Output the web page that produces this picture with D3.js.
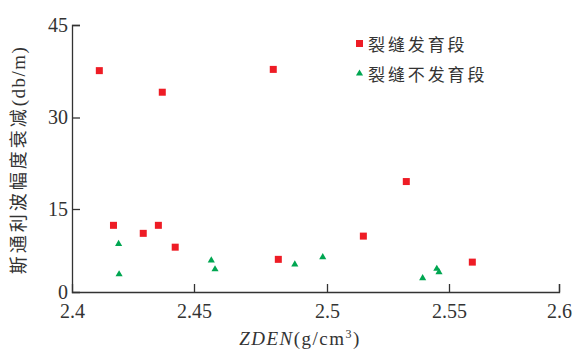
<!DOCTYPE html>
<html>
<head>
<meta charset="utf-8">
<script src="https://cdn.jsdelivr.net/npm/d3@7"></script>
<style>
  body { margin: 0; background: #fff; }
  svg { display: block; }
</style>
</head>
<body>
<div id="chart"></div>
<script>
const width = 574;
const height = 349;

// data
const devX = [2.4112, 2.437, 2.4798, 2.417, 2.4354, 2.4292, 2.4423, 2.4817, 2.5325, 2.5149, 2.5606];
const devY = [37.6, 34.1, 37.8, 12.05, 12.05, 10.6, 8.1, 5.9, 19.5, 10.1, 5.4];
const nonX = [2.4191, 2.4193, 2.4565, 2.4579, 2.4879, 2.4984, 2.5392, 2.545, 2.5459];
const nonY = [8.7, 3.2, 5.7, 4.1, 5.0, 6.3, 2.5, 4.2, 3.6];
const xTicks = [2.4, 2.45, 2.5, 2.55, 2.6];
const yTicks = [0, 15, 30, 45];
const legendNames = ["裂缝发育段", "裂缝不发育段"];

const red = "#ee1c25";
const green = "#00a651";
const ink = "#333";

const svg = d3.select("#chart").append("svg").attr("width", width).attr("height", height);

// tick spacing in the source figure is uneven, so the scales follow it piecewise
const x = d3.scaleLinear().domain(xTicks).range([72, 194, 327, 449, 559]);
const y = d3.scaleLinear().domain(yTicks).range([292, 209, 117.5, 25]);

const xAxis = d3.axisBottom(x).tickValues(xTicks).tickSize(-8).tickPadding(12).tickFormat(d3.format(""));
const yAxis = d3.axisLeft(y).tickValues(yTicks).tickSize(-8).tickPadding(6);

const gx = svg.append("g").attr("transform", `translate(0,${y(0)})`).call(xAxis);
const gy = svg.append("g").attr("transform", `translate(${x(2.4)},0)`).call(yAxis);

[gx, gy].forEach(g => {
  g.select(".domain").attr("stroke", ink).attr("stroke-width", 1.3);
  g.selectAll(".tick line").attr("stroke", ink).attr("stroke-width", 1.3);
  g.selectAll(".tick text")
    .attr("fill", ink)
    .style("font-family", "'Liberation Serif', 'DejaVu Serif', serif")
    .style("font-size", "20px");
});
gx.selectAll(".tick text").attr("dy", "0.71em");
gy.selectAll(".tick text").attr("x", -4);
// the corner ticks are covered by the other axis
gy.selectAll(".tick").filter(d => d === 0).select("line").remove();
gx.selectAll(".tick").filter(d => d === 2.4).select("line").remove();

// squares
const sq = 7;
svg.append("g").selectAll("rect")
  .data(devX.map((d, i) => [d, devY[i]]))
  .join("rect")
  .attr("x", d => x(d[0]) - sq / 2)
  .attr("y", d => y(d[1]) - sq / 2)
  .attr("width", sq)
  .attr("height", sq)
  .attr("fill", red);

// triangles
const tri = d3.symbol().type(d3.symbolTriangle).size(22);
svg.append("g").selectAll("path")
  .data(nonX.map((d, i) => [d, nonY[i]]))
  .join("path")
  .attr("d", tri)
  .attr("transform", d => `translate(${x(d[0])},${y(d[1])})`)
  .attr("fill", green);

// legend
const leg = svg.append("g");
leg.append("rect").attr("x", 356).attr("y", 40).attr("width", 7).attr("height", 7).attr("fill", red);
leg.append("path").attr("d", tri).attr("transform", "translate(359.5,73.5)").attr("fill", green);
leg.selectAll("text")
  .data(legendNames)
  .join("text")
  .attr("x", 368)
  .attr("y", (d, i) => 45 + i * 30)
  .attr("dy", "0.36em")
  .attr("fill", ink)
  .style("font-family", "'Noto Sans CJK SC', sans-serif")
  .style("font-size", "17px")
  .style("letter-spacing", "2.9px")
  .text(d => d);

// x title
const xt = svg.append("text")
  .attr("x", 300)
  .attr("y", 345)
  .attr("text-anchor", "middle")
  .attr("fill", ink)
  .style("font-family", "'Liberation Serif', serif")
  .style("font-size", "19px");
xt.append("tspan").style("font-style", "italic").text("ZDEN");
xt.append("tspan").text("(g/cm");
xt.append("tspan").attr("dy", -7).style("font-size", "12px").text("3");
xt.append("tspan").attr("dy", 7).text(")");
xt.style("word-spacing", "0").selectAll("tspan").style("letter-spacing", "1.5px");

// y title
const yt = svg.append("text")
  .attr("transform", "translate(25,160) rotate(-90)")
  .attr("text-anchor", "middle")
  .attr("fill", ink)
  .style("font-size", "18px");
yt.append("tspan").style("font-family", "'Noto Sans CJK SC', sans-serif").style("letter-spacing", "3px").text("斯通利波幅度衰减");
yt.append("tspan").style("font-family", "'Liberation Serif', serif").style("font-size", "19px").style("letter-spacing", "1.5px").text("(db/m)");
</script>
</body>
</html>
